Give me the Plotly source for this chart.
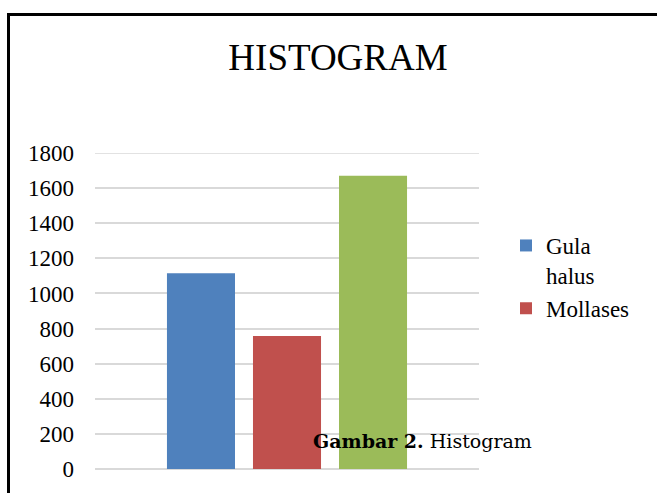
import plotly.graph_objects as go

categories = [""]
series_names = ["Gula<br>halus", "Mollases", "Tetes"]
gula_halus = [1115]
mollases = [757]
third_series = [1670]
colors = ["#4f81bd", "#c0504d", "#9bbb59"]
y_ticks = [0, 200, 400, 600, 800, 1000, 1200, 1400, 1600, 1800]

W, H = 657, 493
L, R, T, B = 95, 178, 153, 24
pw, ph = W - L - R, H - T - B

def px_x(px):
    return (px - L) / pw

def px_y(py):
    return (H - B - py) / ph

fig = go.Figure()
for name, vals, col, show in zip(series_names, [gula_halus, mollases, third_series], colors, [True, True, False]):
    fig.add_trace(go.Bar(x=categories, y=vals, name=name, marker=dict(color=col, line=dict(width=0)),
                         showlegend=show))

serif = "Liberation Serif, Times New Roman, serif"
grid = "#d9d9d9"
fig.update_layout(
    width=W, height=H,
    margin=dict(l=L, r=R, t=T, b=B),
    paper_bgcolor="white", plot_bgcolor="white",
    barmode="group", bargap=0.328, bargroupgap=0.209,
    font=dict(family=serif, color="black", size=23),
    title=dict(text="HISTOGRAM", xref="container", yref="container",
               x=338 / W, y=1 - 57 / H, xanchor="center", yanchor="middle",
               font=dict(family=serif, size=37, color="black")),
    legend=dict(x=px_x(506), y=px_y(224), xanchor="left", yanchor="top",
                valign="top", font=dict(family=serif, size=23, color="black"),
                bgcolor="rgba(0,0,0,0)", tracegroupgap=3),
    xaxis=dict(showticklabels=False, showgrid=False, zeroline=False, showline=False, ticks=""),
    yaxis=dict(range=[0, 1800], tickvals=y_ticks, showgrid=True, gridcolor=grid, gridwidth=1.5,
               zeroline=True, zerolinecolor=grid, zerolinewidth=1.5, showline=False,
               ticks="", ticklabelstandoff=20, tickfont=dict(family=serif, size=23, color="black")),
    shapes=[dict(type="line", xref="paper", yref="y", x0=0, x1=1, y0=y_ticks[-1], y1=y_ticks[-1],
                 line=dict(color=grid, width=1.5), layer="below"),
            dict(type="rect", xref="paper", yref="paper",
                 x0=px_x(8.5), x1=px_x(670), y0=px_y(510), y1=px_y(14.5),
                 line=dict(color="black", width=3), fillcolor="rgba(0,0,0,0)", layer="above")],
    annotations=[dict(text="<b>Gambar 2.</b> Histogram", xref="paper", yref="paper",
                      x=px_x(311), y=px_y(441), xanchor="left", yanchor="middle", showarrow=False,
                      font=dict(family="DejaVu Serif, Georgia, serif", size=19, color="black"))],
)

fig.write_html("out.html", config={"displayModeBar": False},
               post_script="document.body.style.margin='0';document.body.style.padding='0';")
